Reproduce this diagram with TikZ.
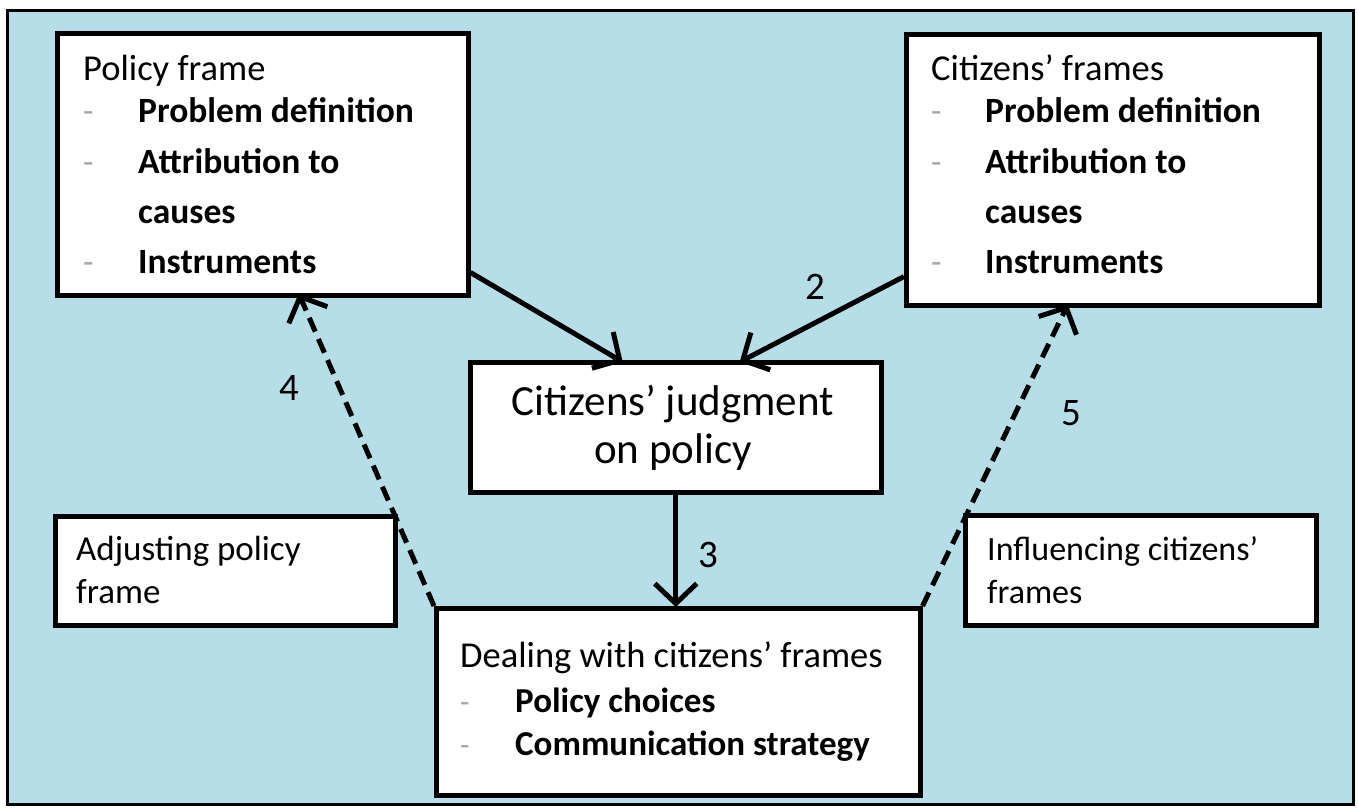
\documentclass[tikz,border=0pt]{standalone}
\usepackage{fontspec}
\setmainfont{Carlito}
\usetikzlibrary{arrows.meta}
\definecolor{bgblue}{HTML}{B7DDE8}
\definecolor{dashgray}{HTML}{A6A6A6}
\tikzset{
  box/.style={draw=black, line width=4.5pt, fill=white, inner sep=0pt, anchor=north west},
  txt/.style={anchor=base west, inner sep=0pt, font=\fontsize{36.5}{42}\selectfont},
  btxt/.style={anchor=base west, inner sep=0pt, font=\fontsize{35.5}{42}\selectfont\bfseries},
  stxt/.style={anchor=base west, inner sep=0pt, font=\fontsize{35}{40}\selectfont},
  sbtxt/.style={stxt, font=\fontsize{35}{40}\selectfont\bfseries},
  dsh/.style={anchor=base west, inner sep=0pt, text=dashgray},
  lbl/.style={inner sep=0pt, font=\fontsize{39}{44}\selectfont},
  arr/.style={line width=5pt, -{Straight Barb[length=20pt,width=42pt,line width=5pt]}},
  darr/.style={arr, dash pattern=on 15pt off 8pt}
}
\begin{document}
\begin{tikzpicture}[x=1pt,y=-1pt]
\useasboundingbox (0,0) rectangle (1358,807);
\fill[white] (0,0) rectangle (1358,807);
\draw[line width=3pt, fill=bgblue] (7,10) rectangle (1353,804);

% boxes
\node[box, minimum width=411pt, minimum height=262pt] (pf) at (55,31) {};
\node[box, minimum width=413pt, minimum height=271pt] (cf) at (904,32) {};
\node[box, minimum width=411pt, minimum height=130pt] (jd) at (468,360) {};
\node[box, minimum width=340pt, minimum height=109pt] (adj) at (53,514) {};
\node[box, minimum width=351pt, minimum height=110pt] (inf) at (963,513) {};
\node[box, minimum width=484pt, minimum height=187pt] (deal) at (434,606) {};

% policy frame text
\node[txt] (pft) at (83,80) {Policy frame};
\node[dsh, font=\fontsize{34}{40}\selectfont] (pfd1) at (83,122) {-};
\node[btxt] (pf1) at (138,122) {Problem definition};
\node[dsh, font=\fontsize{34}{40}\selectfont] (pfd2) at (83,173) {-};
\node[btxt] (pf2) at (138,173) {Attribution to};
\node[btxt] (pf3) at (138,223) {causes};
\node[dsh, font=\fontsize{34}{40}\selectfont] (pfd3) at (83,273) {-};
\node[btxt] (pf4) at (138,273) {Instruments};

% citizens' frames text
\node[txt] (cft) at (931,80) {Citizens’ frames};
\node[dsh, font=\fontsize{34}{40}\selectfont] (cfd1) at (931,122) {-};
\node[btxt] (cf1) at (985,122) {Problem definition};
\node[dsh, font=\fontsize{34}{40}\selectfont] (cfd2) at (931,173) {-};
\node[btxt] (cf2) at (985,173) {Attribution to};
\node[btxt] (cf3) at (985,223) {causes};
\node[dsh, font=\fontsize{34}{40}\selectfont] (cfd3) at (931,273) {-};
\node[btxt] (cf4) at (985,273) {Instruments};

% judgment text
\node[anchor=base, inner sep=0pt, font=\fontsize{43}{48}\selectfont] (jd1) at (673,415) {Citizens’ judgment};
\node[anchor=base, inner sep=0pt, font=\fontsize{43}{48}\selectfont] (jd2) at (673,463) {on policy};

% adjusting / influencing
\node[stxt] (adj1) at (76,560) {Adjusting policy};
\node[stxt] (adj2) at (76,603) {frame};
\node[stxt, font=\fontsize{34}{40}\selectfont] (inf1) at (987,560) {Influencing citizens’};
\node[stxt, font=\fontsize{34}{40}\selectfont] (inf2) at (987,603) {frames};

% dealing text
\node[stxt, font=\fontsize{36.5}{40}\selectfont] (dlt) at (460,667) {Dealing with citizens’ frames};
\node[dsh, font=\fontsize{31}{36}\selectfont] (dld1) at (460,712) {-};
\node[sbtxt] (dl1) at (515,712) {Policy choices};
\node[dsh, font=\fontsize{31}{36}\selectfont] (dld2) at (460,755) {-};
\node[sbtxt] (dl2) at (515,755) {Communication strategy};

% connectors
\draw[arr] ([yshift=25pt]pf.south east) -- ([xshift=-53pt,yshift=-2pt]jd.north);
\draw[arr] ([yshift=31pt]cf.south west) -- ([xshift=64pt,yshift=-2pt]jd.north);
\draw[arr] (jd.south) -- ([yshift=-1pt]jd.south |- deal.north);
\draw[darr] (deal.north west) -- ([xshift=36pt,yshift=4pt]pf.south);
\draw[darr] (deal.north east) -- ([xshift=-45pt,yshift=3pt]cf.south);

% labels
\node[lbl] (l2) at (815,287) {2};
\node[lbl] (l3) at (708,555) {3};
\node[lbl] (l4) at (289,388) {4};
\node[lbl] (l5) at (1071,413) {5};
\end{tikzpicture}
\end{document}
